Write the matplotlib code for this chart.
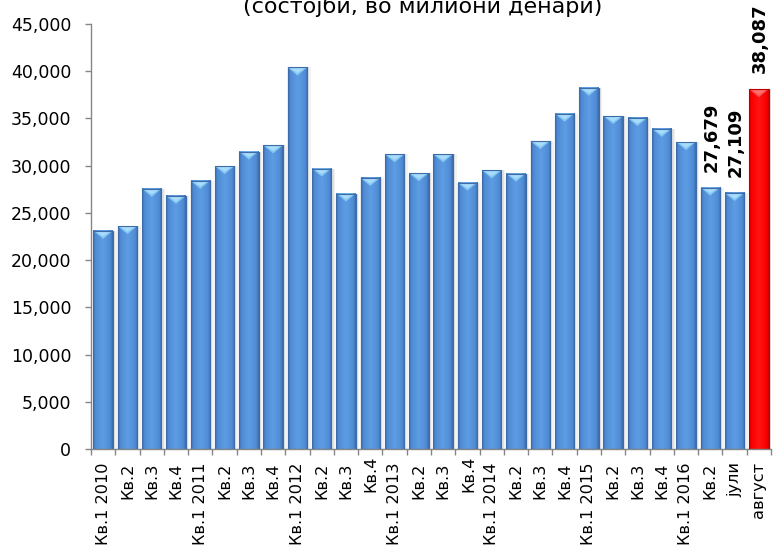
import numpy as np
import matplotlib
matplotlib.use("Agg")
import matplotlib.pyplot as plt
from matplotlib.colors import LinearSegmentedColormap
from matplotlib.patches import Polygon
from matplotlib.transforms import ScaledTranslation
from matplotlib.ticker import FuncFormatter, MultipleLocator

categories = ["Кв.1 2010", "Кв.2", "Кв.3", "Кв.4",
              "Кв.1 2011", "Кв.2", "Кв.3", "Кв.4",
              "Кв.1 2012", "Кв.2", "Кв.3", "Кв.4",
              "Кв.1 2013", "Кв.2", "Кв.3", "Кв.4",
              "Кв.1 2014", "Кв.2", "Кв.3", "Кв.4",
              "Кв.1 2015", "Кв.2", "Кв.3", "Кв.4",
              "Кв.1 2016", "Кв.2", "јули", "август"]
values = [23100, 23600, 27550, 26800,
          28400, 29950, 31500, 32150,
          40400, 29700, 27050, 28700,
          31200, 29200, 31200, 28200,
          29500, 29150, 32600, 35500,
          38250, 35250, 35050, 33900,
          32500, 27679, 27109, 38087]
labelled = [25, 26, 27]          # bars that carry a value label
highlighted = 27                 # last month shown in red
subtitle = "(состојби, во милиони денари)"

W, H = 773, 554
fig = plt.figure(figsize=(W / 100, H / 100), dpi=100)
ax = fig.add_axes([91 / W, 1 - 449 / H, 680 / W, 425 / H])

x = np.arange(len(values))
bw = 0.8

blue_cmap = LinearSegmentedColormap.from_list(
    "blue_bar", [(0, "#3b6cab"), (0.12, "#4f8bd5"), (0.5, "#5e9de4"),
                 (0.88, "#4f8bd5"), (1, "#3b6aa8")])
red_cmap = LinearSegmentedColormap.from_list(
    "red_bar", [(0, "#d00000"), (0.12, "#fa0000"), (0.5, "#ff1414"),
                (0.88, "#fa0000"), (1, "#c80000")])
grad = np.linspace(0, 1, 64).reshape(1, -1)

# soft drop shadow behind the bars
ax.bar(x + 0.07, values, width=0.96, color="#000000", alpha=0.05, zorder=1, linewidth=0)
ax.bar(x + 0.06, values, width=0.86, color="#000000", alpha=0.07, zorder=1, linewidth=0)

tri_depth = 45000 * 8 / 425
for xi, v in zip(x, values):
    red = xi == highlighted
    ax.imshow(grad, extent=[xi - bw / 2, xi + bw / 2, 0, v], aspect="auto",
              cmap=red_cmap if red else blue_cmap, interpolation="bicubic", zorder=2)
    ax.add_patch(Polygon([(xi - bw / 2, v), (xi + bw / 2, v), (xi, v - tri_depth)],
                         closed=True, facecolor="#ff5050" if red else "#86c8f3",
                         edgecolor="none", zorder=4))
    ax.add_patch(Polygon([(xi - bw / 2 + 0.12, v - tri_depth * 0.12),
                          (xi + bw / 2 - 0.12, v - tri_depth * 0.12),
                          (xi, v - tri_depth * 0.7)],
                         closed=True, facecolor="#ff7070" if red else "#a8dcfa",
                         edgecolor="none", zorder=4))
ax.bar(x, values, width=bw, fill=False,
       edgecolor=["#b80000" if i == highlighted else "#3d6ca9" for i in x],
       linewidth=0.8, zorder=5)

for i in labelled:
    ax.annotate(f"{values[i]:,}", xy=(x[i], values[i]), xytext=(1, 11.5),
                textcoords="offset points", rotation=90, ha="center", va="bottom",
                fontsize=13, fontweight="bold", color="black")

ax.set_xlim(-0.5, len(values) - 0.5)
ax.set_ylim(0, 45000)
ax.yaxis.set_major_locator(MultipleLocator(5000))
ax.yaxis.set_major_formatter(FuncFormatter(lambda v, p: f"{v:,.0f}"))

ax.set_xticks(x)
ax.set_xticklabels(categories, rotation=90)
ax.set_xticks(np.arange(-0.5, len(values), 1), minor=True)

axis_grey = "#868686"
for side in ("top", "right"):
    ax.spines[side].set_visible(False)
for side in ("left", "bottom"):
    ax.spines[side].set_color(axis_grey)
    ax.spines[side].set_linewidth(1.0)

ax.tick_params(axis="y", length=4.3, width=1, color=axis_grey, pad=10,
               labelsize=12.5, labelcolor="black")
ax.tick_params(axis="x", which="major", length=0, pad=9.5, labelsize=11.6,
               labelcolor="black")
ax.tick_params(axis="x", which="minor", length=4.3, width=1, color=axis_grey)

# two of the Q4 labels sit slightly closer to the axis
for i in (11, 15):
    lbl = ax.get_xticklabels()[i]
    lbl.set_transform(lbl.get_transform() + ScaledTranslation(0.01, 0.07, fig.dpi_scale_trans))

# second line of the chart heading; the first line lies above the canvas
fig.text(423 / W, 1 - 13 / H, subtitle, ha="center", va="baseline",
         fontsize=16, color="black")

fig.savefig("out.png", dpi=100)
